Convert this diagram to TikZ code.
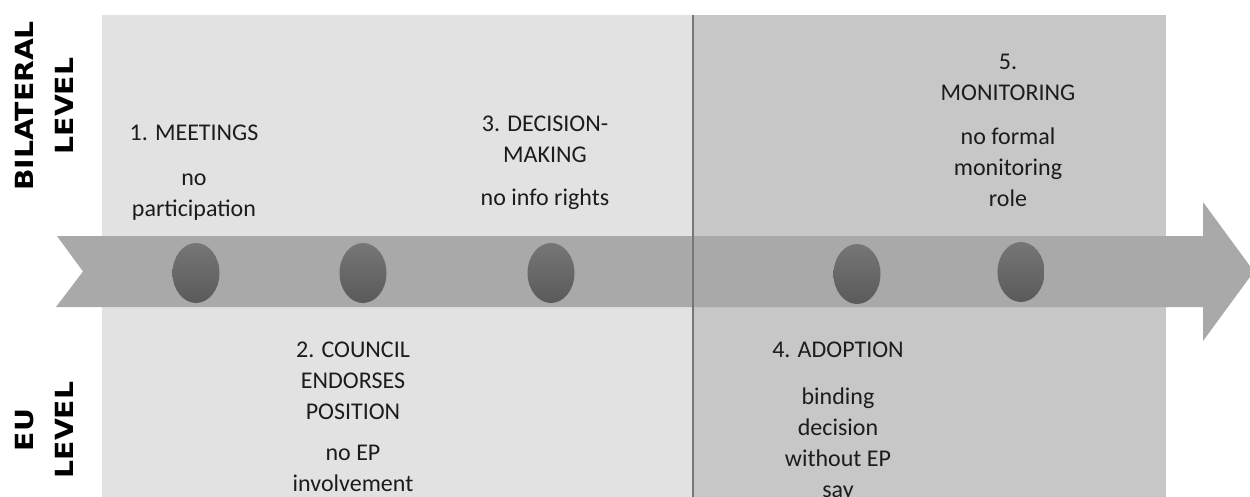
\documentclass[tikz,border=0pt]{standalone}
\usepackage{fontspec}
\setmainfont{Carlito}
\newfontfamily\lblfont{DejaVu Sans}
\usetikzlibrary{shapes.geometric}
\definecolor{panelA}{HTML}{E2E2E2}
\definecolor{panelB}{HTML}{C7C7C7}
\definecolor{bandc}{HTML}{A9A9A9}
\definecolor{divc}{HTML}{767676}
\definecolor{dotTop}{HTML}{767676}
\definecolor{dotBot}{HTML}{5A5A5A}
\definecolor{txt}{HTML}{1C1C1C}
\begin{document}
\begin{tikzpicture}[x=1pt,y=-1pt,
  dot/.style={ellipse,minimum width=47pt,minimum height=60pt,inner sep=0pt,
    top color=dotTop,bottom color=dotBot,draw=none},
  steptext/.style={align=center,inner sep=0pt,text=txt,
    font=\fontsize{24}{31}\selectfont,anchor=base},
  levellbl/.style={rotate=90,align=center,inner sep=0pt,text=black,
    font=\lblfont\bfseries\fontsize{25}{40}\selectfont}]
\useasboundingbox (0,0) rectangle (1250,497);
\clip (0,0) rectangle (1250,497);
% panels
\fill[panelA] (102,15) rectangle (692,497);
\fill[panelB] (692,15) rectangle (1166,497);
% arrow band
\fill[bandc] (57,236) -- (1203,236) -- (1203,202) -- (1254,271.5) -- (1203,341)
  -- (1203,307) -- (56,307) -- (83,271.5) -- cycle;
% divider
\coordinate (dtop) at (692.5,15);
\coordinate (dbot) at (692.5,497);
\draw[divc,line width=2pt] (dtop) -- (dbot);
% dots
\node[dot] (d1) at (196,273) {};
\node[dot] (d2) at (363,273) {};
\node[dot] (d3) at (551,273) {};
\node[dot] (d4) at (857,274) {};
\node[dot] (d5) at (1021,272) {};
% level labels
\node[levellbl] (bil) at (44,106) {\scalebox{1.13}[1]{BILATERAL}\\\scalebox{1.13}[1]{LEVEL}};
\node[levellbl] (eu) at (44,430) {\scalebox{1.13}[1]{EU}\\\scalebox{1.13}[1]{LEVEL}};
% step texts (anchored at the baseline of the last line)
\node[steptext] (t1) at (194,217) {1. MEETINGS\\[14pt]no\\participation};
\node[steptext] (t3) at (545,206) {3. DECISION-\\MAKING\\[12pt]no info rights};
\node[steptext] (t5) at (1008,207) {5.\\MONITORING\\[13pt]no formal\\monitoring\\role};
\node[steptext] (t2) at (353,491) {2. COUNCIL\\ENDORSES\\POSITION\\[10pt]no EP\\involvement};
\node[steptext] (t4) at (838,497) {4. ADOPTION\\[16pt]binding\\decision\\without EP\\say};
\end{tikzpicture}
\end{document}
